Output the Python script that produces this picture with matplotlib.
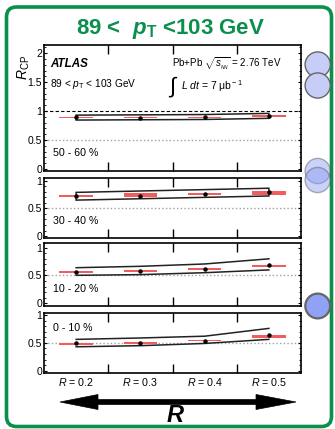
import matplotlib.pyplot as plt
import matplotlib.patches as mpatches
import numpy as np

plt.rcParams['font.family'] = ['Liberation Sans', 'DejaVu Sans']
plt.rcParams['mathtext.fontset'] = 'custom'
plt.rcParams['mathtext.rm'] = 'Liberation Sans'
plt.rcParams['mathtext.it'] = 'Liberation Sans:italic'
plt.rcParams['mathtext.bf'] = 'Liberation Sans:bold:italic'
plt.rcParams['mathtext.sf'] = 'Liberation Sans:bold'

W, H = 335, 429
GREEN = '#0b8f4d'
RED = '#f25c5c'

# ---- data ----
radii = ['0.2', '0.3', '0.4', '0.5']
centralities = ['50 - 60 %', '30 - 40 %', '10 - 20 %', '0 - 10 %']
rcp = [[0.89, 0.885, 0.89, 0.914],
       [0.72, 0.724, 0.759, 0.793],
       [0.567, 0.575, 0.616, 0.693],
       [0.49, 0.50, 0.54, 0.646]]
stat_err = [[0.015, 0.015, 0.015, 0.015],
            [0.012, 0.012, 0.012, 0.012],
            [0.01, 0.01, 0.01, 0.012],
            [0.01, 0.01, 0.01, 0.012]]
syst_val = [[0.89, 0.885, 0.89, 0.915],
            [0.73, 0.74, 0.76, 0.78],
            [0.565, 0.58, 0.616, 0.675],
            [0.485, 0.50, 0.545, 0.62]]
syst_err = [[0.012, 0.012, 0.012, 0.012],
            [0.02, 0.03, 0.02, 0.037],
            [0.012, 0.012, 0.012, 0.018],
            [0.02, 0.02, 0.012, 0.03]]
band_hi = [[0.93, 0.935, 0.94, 0.96],
           [0.79, 0.815, 0.84, 0.865],
           [0.64, 0.665, 0.707, 0.80],
           [0.563, 0.588, 0.62, 0.76]]
band_lo = [[0.845, 0.85, 0.855, 0.875],
           [0.65, 0.675, 0.70, 0.725],
           [0.503, 0.515, 0.55, 0.60],
           [0.43, 0.45, 0.49, 0.563]]
closed_band = [True, True, False, False]

# panel boxes in pixels (top, bottom) and y ranges
panel_px = [(45, 171), (178, 238), (243, 306), (313, 373)]
ylims = [(-0.034, 2.14), (-0.035, 1.05), (-0.05, 1.085), (-0.04, 1.036)]
yticks = [[0, 0.5, 1, 1.5, 2], [0, 0.5, 1], [0, 0.5, 1], [0, 0.5, 1]]
label_y = [0.14, 0.29, 0.27, 0.75]
ax_left, ax_right = 44, 301

fig = plt.figure(figsize=(W / 100, H / 100), dpi=100)


def ftext(x, y, s, **kw):
    # text placed in pixel coordinates of the figure (drawn above the axes)
    return fig.text(x / W, 1 - y / H, s, **kw)


# background layer in pixel coordinates
bg = fig.add_axes([0, 0, 1, 1])
bg.set_xlim(0, W)
bg.set_ylim(H, 0)
bg.axis('off')

frame = mpatches.FancyBboxPatch((6.5, 7), 325, 419.5,
                                boxstyle='round,pad=0,rounding_size=10',
                                fill=False, ec=GREEN, lw=2.6)
bg.add_patch(frame)

ftext(170.5, 29, r'89 <  $\mathbf{p}_{\mathsf{T}}$ <103 GeV', color=GREEN,
      fontsize=16, fontweight='bold', ha='center', va='center')

# decorative circles on the right
for cy in (64.5, 85.5):
    bg.add_patch(mpatches.Circle((317.7, cy), 12.6, fc='#c6cdf7', ec='#666666', lw=1))
for cy in (171, 180):
    bg.add_patch(mpatches.Circle((317.7, cy), 12.6, fc='#8a9cf2', alpha=0.45,
                                 ec='#555555', lw=1))
bg.add_patch(mpatches.Circle((317.7, 306), 12.4, fc='#8fa2f5', ec='#666666', lw=1.6))

# double arrow with R
arrow = mpatches.Polygon([(60, 402), (98, 394.5), (98, 399.5), (256, 399.5), (256, 394.5),
                          (296, 402), (256, 409.5), (256, 404.5), (98, 404.5), (98, 409.5)],
                         closed=True, fc='black', ec='black', lw=0.5)
bg.add_patch(arrow)
ftext(175, 416, r'$\mathbf{R}$', fontsize=17, ha='center', va='center')

# y-axis label
ftext(24, 68, r'$R_{\rm CP}$', fontsize=10, rotation=90, ha='center', va='center')

axes = []
for i in range(4):
    top, bot = panel_px[i]
    ax = fig.add_axes([ax_left / W, 1 - bot / H, (ax_right - ax_left) / W, (bot - top) / H])
    axes.append(ax)
    x = np.arange(len(radii))
    ax.set_xlim(-0.5, 3.5)
    ax.set_ylim(*ylims[i])

    ax.axhline(0.5, color='#a0a0a0', ls=':', lw=1, zorder=1)
    if i == 0:
        ax.axhline(1, color='black', ls=(0, (3, 2)), lw=0.8, zorder=1)

    sv = np.array(syst_val[i])
    se = np.array(syst_err[i])
    ax.bar(x, 2 * se, bottom=sv - se, width=0.52, color=RED, lw=0, zorder=2)

    hi = np.array(band_hi[i])
    lo = np.array(band_lo[i])
    if closed_band[i]:
        ax.fill(np.r_[x, x[::-1]], np.r_[hi, lo[::-1]], facecolor='none',
                edgecolor='#222222', lw=1.1, zorder=3)
    else:
        ax.plot(x, hi, color='#222222', lw=1.1, zorder=3)
        ax.plot(x, lo, color='#222222', lw=1.1, zorder=3)

    ax.errorbar(x, rcp[i], yerr=stat_err[i], fmt='o', ms=2.2, color='black',
                elinewidth=0.8, capsize=0, zorder=4)

    ax.text(0.035, label_y[i], centralities[i], transform=ax.transAxes,
            fontsize=7.7, ha='left', va='center')

    ax.set_xticks([0.5, 1.5, 2.5])
    ax.set_xticklabels([])
    ax.set_yticks(yticks[i])
    ax.set_yticklabels([('%g' % v) for v in yticks[i]])
    ax.set_yticks(np.arange(0, ylims[i][1], 0.1), minor=True)
    ax.tick_params(axis='x', which='major', direction='in', length=6.5, width=1,
                   top=True, bottom=True)
    ax.tick_params(axis='y', which='major', direction='in', length=2.5, width=0.8,
                   left=True, right=True, labelsize=7.5, pad=1.5)
    ax.tick_params(axis='y', which='minor', direction='in', length=1.2, width=0.6,
                   left=True, right=True)
    for s in ax.spines.values():
        s.set_linewidth(1.2)

# x labels on the bottom panel
axes[-1].set_xticks(np.arange(len(radii)), [r'$R$ = ' + r for r in radii], minor=True)
axes[-1].tick_params(axis='x', which='minor', length=0, labelsize=7.7, pad=2.5)

# header texts in the first panel
ftext(50, 64, 'ATLAS', fontsize=8.4, fontweight='bold', fontstyle='italic',
      ha='left', va='center')
ftext(50, 84, r'89 < $p_{\rm T}$ < 103 GeV', fontsize=7.3, ha='left', va='center')
ftext(172, 64, r'Pb+Pb $\sqrt{s_{_{NN}}}$ = 2.76 TeV', fontsize=7, ha='left', va='center')
ftext(168, 87, r'$\int$', fontsize=16, ha='left', va='center')
ftext(181, 86, r'$L\ dt$ = 7 μb$^{\rm -1}$', fontsize=7.5, ha='left', va='center')

plt.savefig('out.png', dpi=100)
